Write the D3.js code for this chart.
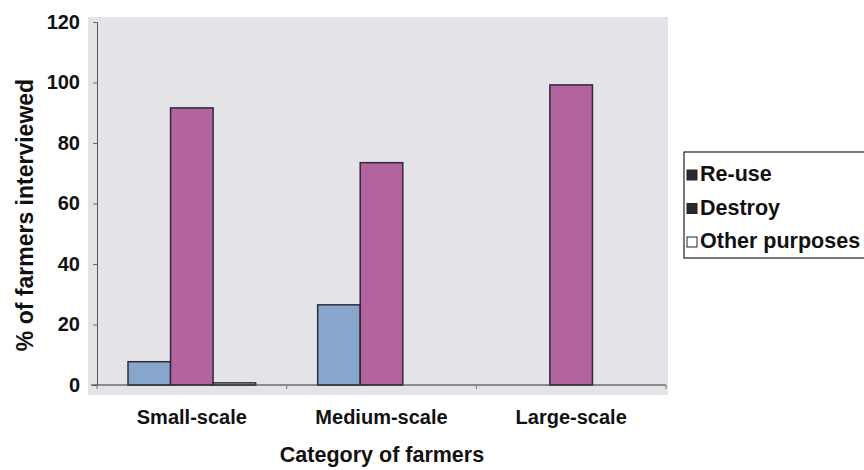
<!DOCTYPE html>
<html>
<head>
<meta charset="utf-8">
<script src="https://cdn.jsdelivr.net/npm/d3@7"></script>
<style>
  html, body { margin: 0; padding: 0; background: #fff; }
  svg { display: block; }
  text { font-family: "Liberation Sans", Arial, sans-serif; font-weight: bold; fill: #111; }
</style>
</head>
<body>
<svg id="chart" width="864" height="470"></svg>
<script>
// Disposal of containers by category of farmer (% of farmers interviewed)
const categories = ["Small-scale", "Medium-scale", "Large-scale"];
const seriesNames = ["Re-use", "Destroy", "Other purposes"];
const reuse = [7.7, 26.5, 0];
const destroy = [91.6, 73.5, 99.2];
const otherPurposes = [0.7, 0, 0];
const yTicks = [0, 20, 40, 60, 80, 100, 120];

const seriesValues = [reuse, destroy, otherPurposes];
const fills = ["#88a6cb", "#b3649f", "#e2e2e6"];

const svg = d3.select("#chart");

const plot = { left: 97, right: 666, top: 22, bottom: 385 };

// plot area background
svg.append("rect")
  .attr("x", 88).attr("y", 17)
  .attr("width", 668 - 88).attr("height", 395 - 17)
  .attr("fill", "#e4e4e8");

const y = d3.scaleLinear().domain([0, 120]).range([plot.bottom, plot.top]);
const x0 = d3.scaleBand().domain(categories).range([plot.left, plot.right]).padding(0);
const groupPad = 31;
const x1 = d3.scaleBand().domain(seriesNames)
  .range([groupPad, x0.bandwidth() - groupPad]).padding(0);

// bars
const rows = categories.map((c, i) => ({
  category: c,
  values: seriesNames.map((s, j) => ({ series: s, value: seriesValues[j][i], idx: j }))
}));

const groups = svg.append("g").selectAll("g")
  .data(rows).join("g")
  .attr("transform", d => `translate(${x0(d.category)},0)`);

groups.selectAll("rect")
  .data(d => d.values.filter(v => v.value > 0))
  .join("rect")
  .attr("x", d => x1(d.series))
  .attr("y", d => y(d.value))
  .attr("width", x1.bandwidth())
  .attr("height", d => y(0) - y(d.value))
  .attr("fill", d => fills[d.idx])
  .attr("stroke", "#33283a")
  .attr("stroke-width", 1.5);

// y axis
const yAxis = svg.append("g")
  .attr("transform", `translate(${plot.left},0)`)
  .call(d3.axisLeft(y).tickValues(yTicks).tickSize(4).tickPadding(13));
yAxis.select(".domain").attr("stroke", "#555").attr("stroke-width", 1);
yAxis.selectAll(".tick line").attr("stroke", "#666");
yAxis.selectAll(".tick text")
  .attr("font-size", 20).attr("font-weight", "bold")
  .attr("font-family", "Liberation Sans, Arial, sans-serif")
  .attr("fill", "#111");

// x axis line and category boundary ticks
const xAxis = svg.append("g")
  .attr("transform", `translate(0,${plot.bottom})`);
xAxis.append("line")
  .attr("x1", plot.left - 6).attr("x2", plot.right)
  .attr("stroke", "#333").attr("stroke-width", 1.2);
const bounds = categories.map(c => x0(c)).concat([plot.right]);
xAxis.selectAll("line.tick").data(bounds).join("line")
  .attr("class", "tick")
  .attr("x1", d => d).attr("x2", d => d)
  .attr("y1", 0).attr("y2", 4)
  .attr("stroke", "#777");
xAxis.selectAll("text").data(categories).join("text")
  .attr("x", d => x0(d) + x0.bandwidth() / 2)
  .attr("y", 39)
  .attr("text-anchor", "middle")
  .attr("font-size", 20)
  .text(d => d);

// axis titles
svg.append("text")
  .attr("x", 382).attr("y", 462)
  .attr("text-anchor", "middle")
  .attr("font-size", 21.5)
  .text("Category of farmers");

svg.append("text")
  .attr("transform", "translate(33,215) rotate(-90)")
  .attr("text-anchor", "middle")
  .attr("font-size", 23)
  .text("% of farmers interviewed");

// legend
const legend = svg.append("g").attr("transform", "translate(684,152)");
legend.append("rect")
  .attr("x", 0).attr("y", 0)
  .attr("width", 190).attr("height", 106)
  .attr("fill", "#fff").attr("stroke", "#222").attr("stroke-width", 1.2);
const legendFills = ["#2a2a2e", "#2a2a2e", "#fff"];
const items = legend.selectAll("g.item").data(seriesNames).join("g")
  .attr("class", "item")
  .attr("transform", (d, i) => `translate(0,${22 + i * 33.5})`);
items.append("rect")
  .attr("x", 3).attr("y", -4)
  .attr("width", 10).attr("height", 10)
  .attr("fill", (d, i) => legendFills[i])
  .attr("stroke", "#222").attr("stroke-width", 1);
items.append("text")
  .attr("x", 16).attr("y", 7)
  .attr("font-size", 21.5)
  .text(d => d);
</script>
</body>
</html>
